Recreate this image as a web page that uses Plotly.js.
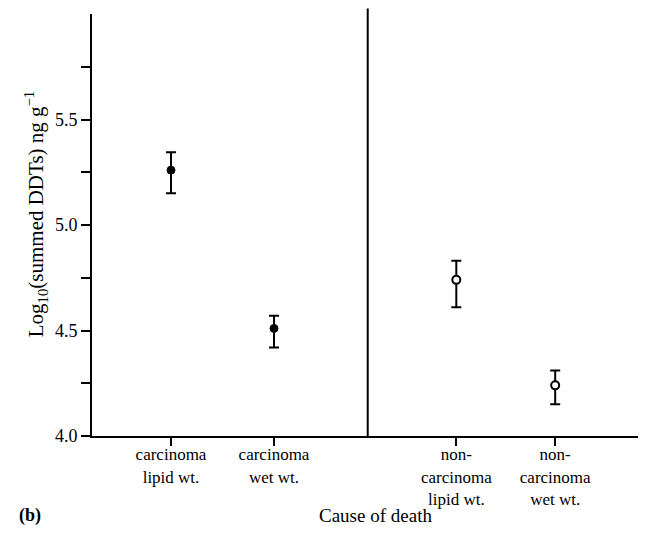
<!DOCTYPE html>
<html>
<head>
<meta charset="utf-8">
<script src="https://cdn.plot.ly/plotly-3.0.1.min.js"></script>
<style>
  html, body { margin: 0; padding: 0; background: #fff; }
  #chart { width: 647px; height: 547px; }
</style>
</head>
<body>
<div id="chart"></div>
<script>
// Group labels along the x axis
const categories = [
  'carcinoma<br>lipid wt.',
  'carcinoma<br>wet wt.',
  'non-<br>carcinoma<br>lipid wt.',
  'non-<br>carcinoma<br>wet wt.'
];
// Horizontal slot of each group on the axis
const xSlots = [1, 2, 3.77, 4.73];

// Mean log10 summed DDT concentration and its upper / lower error limits
const means = [5.26, 4.51, 4.74, 4.24];
const upperLimits = [5.345, 4.57, 4.83, 4.31];
const lowerLimits = [5.15, 4.42, 4.61, 4.15];

// Y tick values; only the half-unit ones carry a label
const yTickVals = [4.0, 4.25, 4.5, 4.75, 5.0, 5.25, 5.5, 5.75];
const yTickText = ['4.0', '', '4.5', '', '5.0', '', '5.5', ''];

const errPlus = means.map((m, i) => upperLimits[i] - m);
const errMinus = means.map((m, i) => m - lowerLimits[i]);

const font = '"Liberation Serif", "Times New Roman", serif';

function group(idx, filled) {
  return {
    type: 'scatter',
    mode: 'markers',
    x: idx.map(i => xSlots[i]),
    y: idx.map(i => means[i]),
    error_y: {
      type: 'data',
      symmetric: false,
      array: idx.map(i => errPlus[i]),
      arrayminus: idx.map(i => errMinus[i]),
      color: '#000',
      thickness: 2,
      width: 5
    },
    marker: {
      symbol: 'circle',
      size: 8,
      color: filled ? '#000' : '#fff',
      line: { color: '#000', width: filled ? 1 : 2 }
    },
    hoverinfo: 'skip',
    showlegend: false
  };
}

const data = [group([0, 1], true), group([2, 3], false)];

const layout = {
  width: 647,
  height: 547,
  margin: { l: 92, r: 9, t: 14, b: 111 },
  paper_bgcolor: '#fff',
  plot_bgcolor: '#fff',
  font: { family: font, color: '#000', size: 17 },
  showlegend: false,
  xaxis: {
    range: [0.233, 5.534],
    tickmode: 'array',
    tickvals: xSlots,
    ticktext: categories,
    ticks: 'outside',
    ticklen: 8,
    tickwidth: 2,
    tickcolor: '#000',
    ticklabelstandoff: -6,
    showline: true,
    linewidth: 2,
    linecolor: '#000',
    showgrid: false,
    zeroline: false,
    fixedrange: true,
    tickfont: { family: font, size: 17, color: '#000' }
  },
  yaxis: {
    range: [4.0, 6.0],
    tickmode: 'array',
    tickvals: yTickVals,
    ticktext: yTickText,
    ticks: 'outside',
    ticklen: 9,
    tickwidth: 2,
    tickcolor: '#000',
    showline: true,
    linewidth: 2,
    linecolor: '#000',
    showgrid: false,
    zeroline: false,
    fixedrange: true,
    tickfont: { family: font, size: 18, color: '#000' }
  },
  shapes: [
    {
      type: 'line',
      xref: 'x', yref: 'paper',
      x0: 2.91, x1: 2.91, y0: 0, y1: 1.013,
      line: { color: '#000', width: 2 }
    }
  ],
  annotations: [
    {
      text: 'Log<sub>10</sub>(summed DDTs) ng g<sup>−1</sup>',
      xref: 'paper', yref: 'paper',
      x: -0.103, y: 0.525,
      xanchor: 'center', yanchor: 'middle',
      textangle: -90,
      showarrow: false,
      font: { family: font, size: 21 }
    },
    {
      text: 'Cause of death',
      xref: 'paper', yref: 'paper',
      x: 0.52, y: -0.188,
      xanchor: 'center', yanchor: 'middle',
      showarrow: false,
      font: { family: font, size: 19 }
    },
    {
      text: '<b>(b)</b>',
      xref: 'paper', yref: 'paper',
      x: -0.138, y: -0.188,
      xanchor: 'left', yanchor: 'middle',
      showarrow: false,
      font: { family: font, size: 18 }
    }
  ]
};

Plotly.newPlot('chart', data, layout, { staticPlot: true, displayModeBar: false });
</script>
</body>
</html>
